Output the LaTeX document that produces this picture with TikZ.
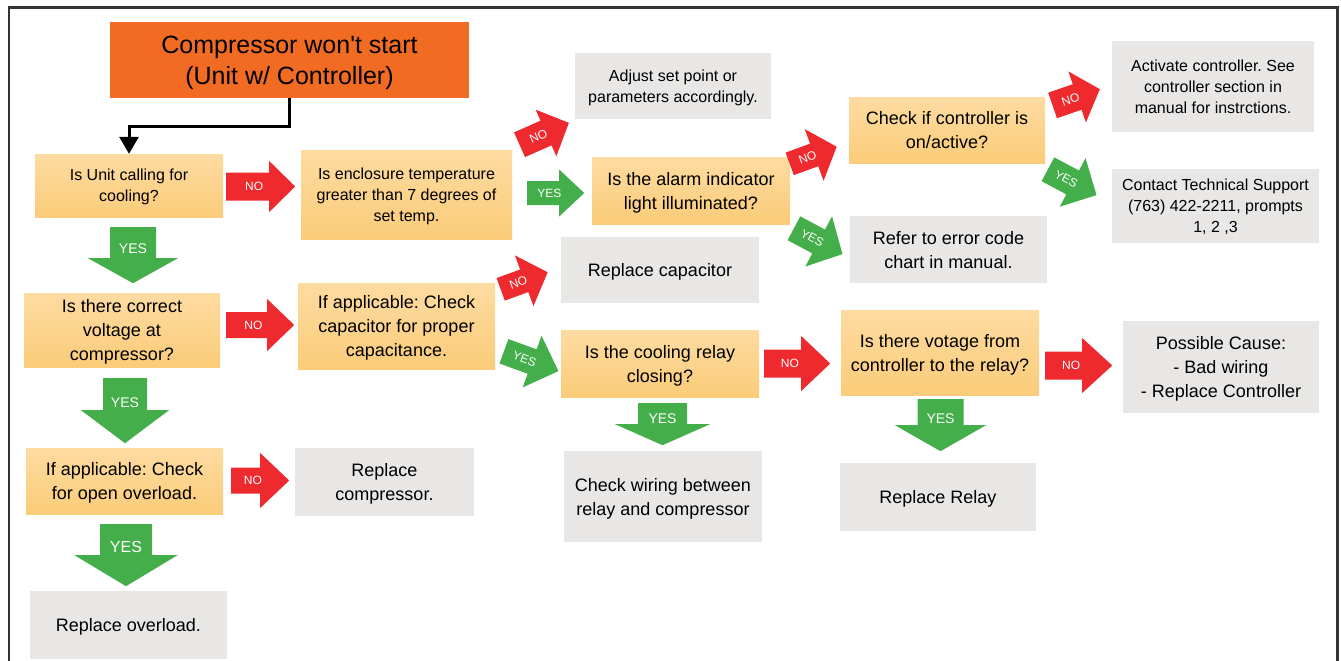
\documentclass[tikz,border=0pt]{standalone}
\usepackage{fontspec}
\setmainfont{Liberation Sans}[Ligatures=TeXOff]
\frenchspacing
\usetikzlibrary{calc,arrows.meta}
\definecolor{titleOrange}{HTML}{F26B23}
\definecolor{askTop}{HTML}{FDDBA1}
\definecolor{askBot}{HTML}{FBCC79}
\definecolor{fixGrey}{HTML}{E8E7E6}
\definecolor{noRed}{HTML}{EE2A2F}
\definecolor{yesGreen}{HTML}{44AF4A}
\definecolor{frameGrey}{HTML}{333333}
\newcommand{\bigtxt}{\fontsize{18}{24}\selectfont}
\newcommand{\smalltxt}{\fontsize{16}{21}\selectfont}
\newcommand{\tagtxt}[1]{\fontsize{#1}{#1}\selectfont}
\tikzset{
  ask/.style={rectangle, top color=askTop, bottom color=askBot, align=center, inner sep=0pt, text depth=0pt, font=\bigtxt},
  fix/.style={rectangle, fill=fixGrey, align=center, inner sep=0pt, text depth=0pt, font=\bigtxt},
  sz/.style 2 args={minimum width=#1pt, minimum height=#2pt},
  tag/.style={text=white, inner sep=0pt},
  pics/flow/.style n args={6}{code={
    \fill[#1] ({-#3/2},{-#6/2}) -- ({#3/2-#4},{-#6/2}) -- ({#3/2-#4},{-#5/2}) -- ({#3/2},0)
      -- ({#3/2-#4},{#5/2}) -- ({#3/2-#4},{#6/2}) -- ({-#3/2},{#6/2}) -- cycle;
    \node[tag] (-t) at ({-#4/4},0) {#2};
  }},
}
\begin{document}
\begin{tikzpicture}[x=1pt, y=-1pt]
\useasboundingbox (0,0) rectangle (1341,661);
\draw[frameGrey, line width=2.5pt] (9,672) -- (9,7.5) -- (1337.5,7.5) -- (1337.5,672);
\node[fill=titleOrange, sz={359}{76}, align=center, text depth=0pt, font=\fontsize{25}{31}\selectfont] (T_0) at (289.5,60) {Compressor won't start\\(Unit w/ Controller)};
\node[ask, sz={188}{63}, font=\smalltxt] (Q_0_0) at (129,185.5) {Is Unit calling for\\cooling?};
\node[ask, sz={196}{74}] (Q_0_1) at (122,330) {Is there correct\\voltage at\\compressor?};
\node[ask, sz={197}{66}] (Q_0_2) at (124.5,481) {If applicable: Check\\for open overload.};
\node[fix, sz={197}{68}] (S_0_3) at (128.5,625) {Replace overload.};
\node[ask, sz={211}{89}, font=\smalltxt] (Q_1_0) at (406.5,194.5) {Is enclosure temperature\\greater than 7 degrees of\\set temp.};
\node[ask, sz={197}{86}] (Q_1_1) at (396.5,326) {If applicable: Check\\capacitor for proper\\capacitance.};
\node[fix, sz={179}{68}] (S_1_2) at (384.5,482) {Replace\\compressor.};
\node[fix, sz={196}{66}, font=\smalltxt] (S_2_0) at (673,86) {Adjust set point or\\parameters accordingly.};
\node[ask, sz={198}{67}] (Q_2_1) at (691,190.5) {Is the alarm indicator\\light illuminated?};
\node[fix, sz={198}{66}] (S_2_2) at (660,270) {Replace capacitor};
\node[ask, sz={198}{67}] (Q_2_3) at (660,363.5) {Is the cooling relay\\closing?};
\node[fix, sz={198}{91}] (S_2_4) at (663,496.5) {Check wiring between\\relay and compressor};
\node[ask, sz={196}{66}] (Q_3_0) at (947,130) {Check if controller is\\on/active?};
\node[fix, sz={197}{67}] (S_3_1) at (948.5,249.5) {Refer to error code\\chart in manual.};
\node[ask, sz={198}{85}] (Q_3_2) at (940,352.5) {Is there votage from\\controller to the relay?};
\node[fix, sz={196}{68}] (S_3_3) at (938,497) {Replace Relay};
\node[fix, sz={202}{91}, font=\smalltxt] (S_4_0) at (1213,86.5) {Activate controller. See\\controller section in\\manual for instrctions.};
\node[fix, sz={207}{74}, font=\smalltxt] (S_4_1) at (1215.5,206) {Contact Technical Support\\(763) 422-2211, prompts\\1, 2 ,3};
\node[fix, sz={196}{92}] (S_4_2) at (1221,367) {Possible Cause:\\- Bad wiring\\- Replace Controller};
\draw[line width=3pt, -{Triangle[width=19pt,length=17pt]}] (T_0.south) -- ++(0,28) -| (Q_0_0.north);
\pic (N_0_0) at ($(Q_0_0.east)+(37.5,1)$) {flow={noRed}{\tagtxt{12}NO}{69}{26}{51}{28}};
\pic[rotate=-90] (Y_0_0) at ($(Q_0_0.south)+(4,38)$) {flow={yesGreen}{\tagtxt{14}YES}{56}{25}{90}{46}};
\pic (N_0_1) at ($(Q_0_1.east)+(40,-5)$) {flow={noRed}{\tagtxt{12}NO}{68}{27}{52}{26}};
\pic[rotate=-90] (Y_0_1) at ($(Q_0_1.south)+(3,43.5)$) {flow={yesGreen}{\tagtxt{14}YES}{65}{33}{88}{44}};
\pic (N_0_2) at ($(Q_0_2.east)+(37,-0.5)$) {flow={noRed}{\tagtxt{12}NO}{58}{29}{55}{26}};
\pic[rotate=-90] (Y_0_2) at ($(Q_0_2.south)+(1.5,41)$) {flow={yesGreen}{\tagtxt{16}YES}{62}{31}{103}{52}};
\pic[rotate=24, transform shape] (N_1_0) at ($(Q_1_0.north east)+(32,-16)$) {flow={noRed}{\tagtxt{12}NO}{54}{25}{51}{27}};
\pic (Y_1_0) at ($(Q_1_0.east)+(43.5,-1.5)$) {flow={yesGreen}{\tagtxt{12}YES}{57}{25}{47}{24}};
\pic[rotate=20, transform shape] (N_1_1) at ($(Q_1_1.north east)+(29,-2)$) {flow={noRed}{\tagtxt{12}NO}{50}{25}{54}{24}};
\pic[rotate=-20, transform shape] (Y_1_1) at ($(Q_1_1.south east)+(36,-8)$) {flow={yesGreen}{\tagtxt{12}YES}{58}{28}{55}{26}};
\pic[rotate=20, transform shape] (N_2_1) at ($(Q_2_1.north east)+(23,-1.5)$) {flow={noRed}{\tagtxt{12}NO}{50}{24}{55}{24}};
\pic[rotate=-28, transform shape] (Y_2_1) at ($(Q_2_1.south east)+(28,17)$) {flow={yesGreen}{\tagtxt{12}YES}{55}{27}{57}{27}};
\pic (N_2_3) at ($(Q_2_3.east)+(38,0)$) {flow={noRed}{\tagtxt{12}NO}{66}{29}{55}{28}};
\pic[rotate=-90] (Y_2_3) at ($(Q_2_3.south)+(2.5,27)$) {flow={yesGreen}{\tagtxt{14}YES}{42}{21}{95}{49}};
\pic[rotate=19, transform shape] (N_3_0) at ($(Q_3_0.north east)+(31,0.5)$) {flow={noRed}{\tagtxt{12}NO}{50}{24}{54}{27}};
\pic[rotate=-28, transform shape] (Y_3_0) at ($(Q_3_0.south east)+(27,19)$) {flow={yesGreen}{\tagtxt{12}YES}{55}{27}{55}{27}};
\pic (N_3_2) at ($(Q_3_2.east)+(39.5,13)$) {flow={noRed}{\tagtxt{12}NO}{67}{30}{55}{28}};
\pic[rotate=-90] (Y_3_2) at ($(Q_3_2.south)+(0.5,30)$) {flow={yesGreen}{\tagtxt{14}YES}{52}{26}{91}{46}};
\end{tikzpicture}
\end{document}
